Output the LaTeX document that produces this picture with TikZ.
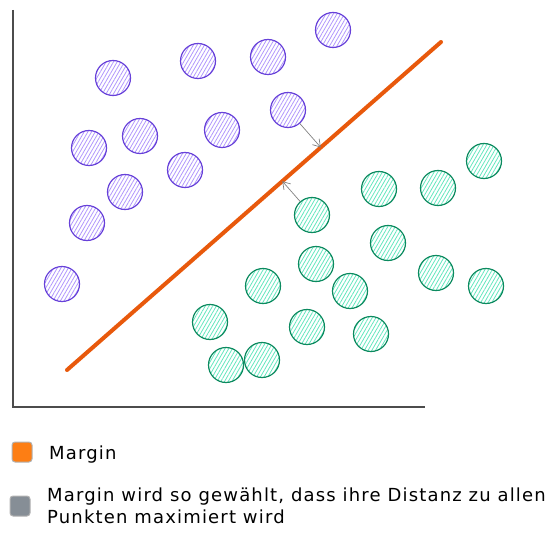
\documentclass[tikz,border=0pt]{standalone}
\usepackage{fontspec}
\setmainfont{DejaVu Sans}
\newfontfamily\handfont[LetterSpace=6.5]{DejaVu Sans}
\usetikzlibrary{arrows.meta}
\usetikzlibrary{patterns.meta}
\usetikzlibrary{calc}
\definecolor{violetline}{HTML}{6741D9}
\definecolor{violetfill}{HTML}{B197FC}
\definecolor{greenline}{HTML}{0C8A5F}
\definecolor{greenfill}{HTML}{63E6BE}
\definecolor{marginred}{HTML}{E8590C}
\definecolor{legendorange}{HTML}{FD7E14}
\definecolor{legendgray}{HTML}{868E96}
\tikzset{
    dot/.style={circle, minimum size=35pt, inner sep=0pt, line width=1.2pt},
    violet dot/.style={dot, draw=violetline, pattern color=violetfill,
          pattern={Lines[angle=60,distance=3.2pt,line width=0.8pt]}},
    green dot/.style={dot, draw=greenline, pattern color=greenfill,
          pattern={Lines[angle=60,distance=3.2pt,line width=0.8pt]}},
    %margin arrows point from the nearest dots to the line
    gap/.style={draw=gray, line width=0.7pt, -{Straight Barb[length=7pt,width=9pt]}},
}

\begin{document}
\begin{tikzpicture}[x=1pt,y=-1pt,
                    axis/.style={draw=black!70, line width=1.8pt},
                    key/.style={rounded corners=3pt, minimum size=20pt, inner sep=0pt,
                                draw=gray!60, line width=1pt},
                    keytext/.style={anchor=west, align=left, inner sep=0pt,
                                    font=\handfont\fontsize{18}{22}\selectfont}]
    \useasboundingbox (0,0) rectangle (559,540);
    % axes
    \draw[axis] (13,10) -- (13,407) -- (425,407);
    % class one
    \foreach \n/\x/\y in {1/113/78, 2/198/61, 3/268/57, 4/333/30, 5/89/148,
                          6/140/136, 7/222/130, 8/288/110, 9/185/170,
                          10/125/192, 11/87/223, 12/62/284}
        \node[violet dot] (p\n) at (\x,\y) {};
    % class two
    \foreach \n/\x/\y in {1/484/161, 2/438/188, 3/379/189, 4/312/215, 5/388/243,
                          6/316/264, 7/436/273, 8/486/286, 9/263/286, 10/350/291,
                          11/210/322, 12/307/327, 13/371/334, 14/226/365, 15/262/360}
        \node[green dot] (g\n) at (\x,\y) {};
    % separating line
    \coordinate (lineA) at (67,370);
    \coordinate (lineB) at (441,42);
    \draw[marginred, line width=4pt, line cap=round] (lineA) -- (lineB);
    \coordinate (footP) at ($(lineA)!(p8)!(lineB)$);
    \coordinate (footG) at ($(lineA)!(g4)!(lineB)$);
    \draw[gap] (p8) -- (footP);
    \draw[gap] (g4) -- (footG);
    % legend
    \node[key, fill=legendorange] (keyMargin) at (22,452) {};
    \node[key, fill=legendgray] (keyNote) at (20,506) {};
    \node[keytext] (txtMargin) at (49,455) {Margin};
    \node[keytext] (txtNote) at (47,506)
        {Margin wird so gewählt, dass ihre Distanz zu allen\\Punkten maximiert wird};
\end{tikzpicture}
\end{document}
